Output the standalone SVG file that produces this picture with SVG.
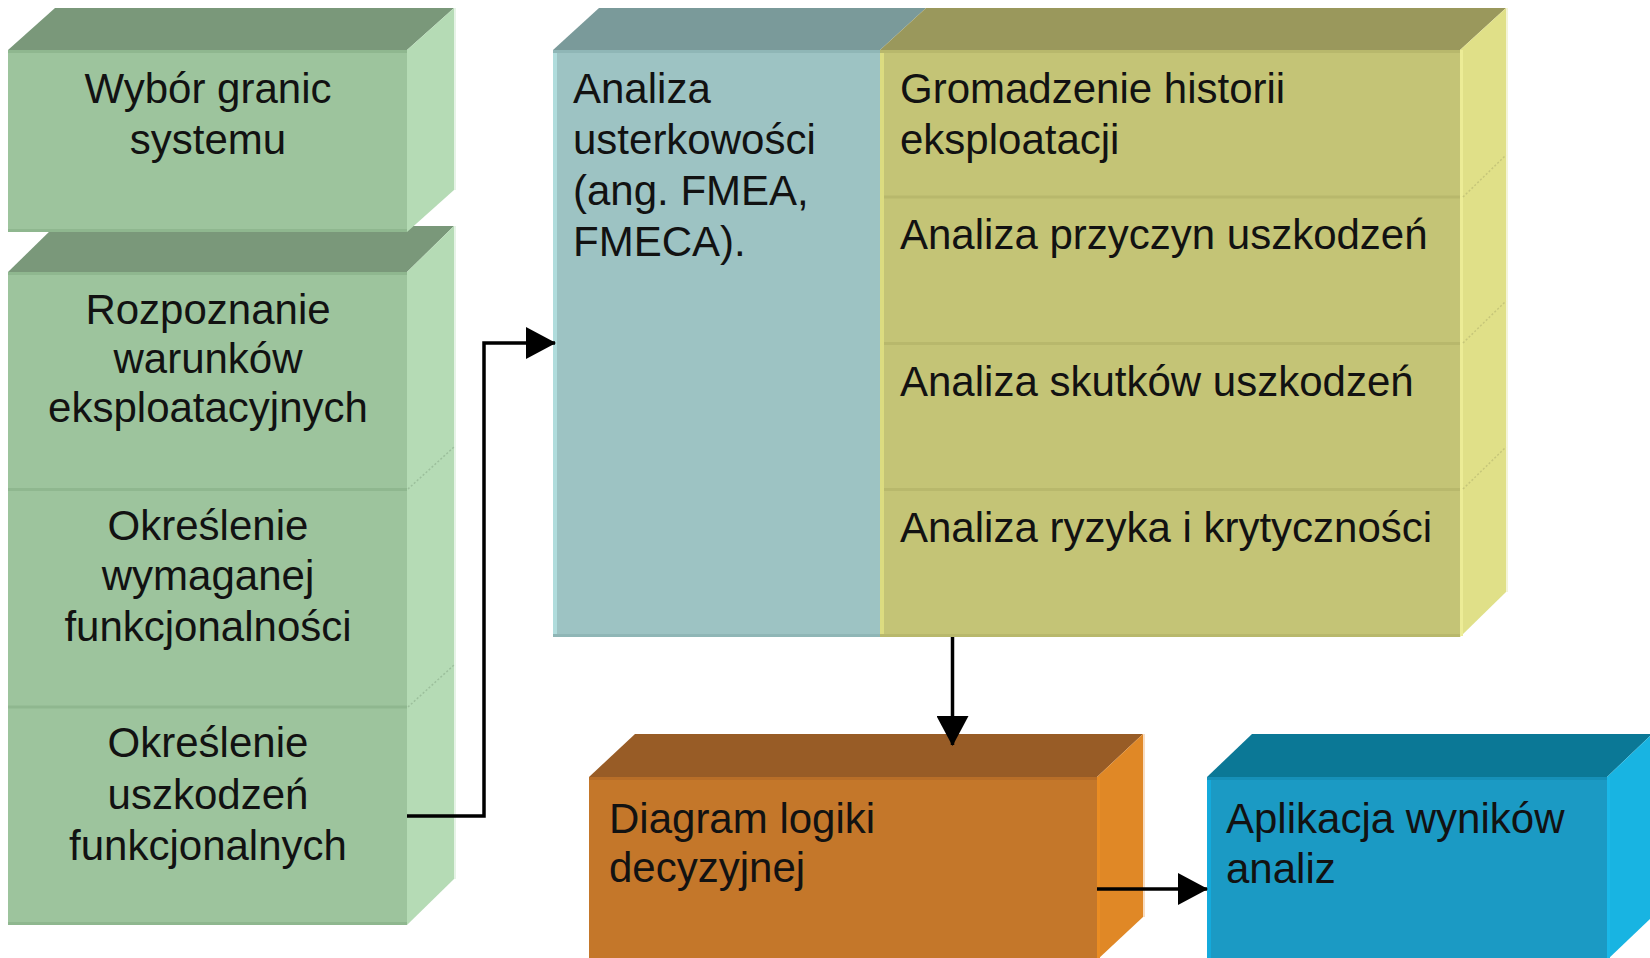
<svg xmlns="http://www.w3.org/2000/svg" width="1650" height="958" viewBox="0 0 1650 958">
  <defs>
    <style>
      text { font-family: "Liberation Sans", Arial, sans-serif; font-size: 42px; fill: #121212; }
      .mid { text-anchor: middle; }
      .g-top { fill: #7a987a; }
      .g-front { fill: #9dc49d; }
      .g-side { fill: #b5dbb5; }
      .g-line { stroke: #8fb78f; stroke-width: 3; }
      .g-edge { stroke: #e6f3e6; stroke-width: 2; }
      .g-dash { stroke: #9cbf9c; stroke-width: 1.5; stroke-dasharray: 2 2; fill: none; }
      .t-top { fill: #7a9a9a; }
      .t-front { fill: #9dc3c3; }
      .t-line { stroke: #8fb6b6; stroke-width: 3; }
      .o-top { fill: #9a985c; }
      .o-front { fill: #c4c476; }
      .o-side { fill: #e0e088; }
      .o-line { stroke: #b8b86c; stroke-width: 3; }
      .o-edge { stroke: #f4f4d8; stroke-width: 2; }
      .o-dash { stroke: #c6c67a; stroke-width: 1.5; stroke-dasharray: 2 2; fill: none; }
      .r-top { fill: #985c26; }
      .r-front { fill: #c4772a; }
      .r-side { fill: #e08826; }
      .r-edge { stroke: #f8dcc0; stroke-width: 2; }
      .b-top { fill: #0b7896; }
      .b-front { fill: #1b9ac4; }
      .b-side { fill: #18b4e2; }
      .conn { stroke: #000; stroke-width: 3.5; fill: none; }
    </style>
    <marker id="arrow" viewBox="0 0 30 32" refX="29" refY="16" markerWidth="30" markerHeight="32" markerUnits="userSpaceOnUse" orient="auto">
      <path d="M0,0 L30,16 L0,32 Z" fill="#000"/>
    </marker>
  </defs>

  <!-- lower green stack (drawn first, the upper block overlaps its top face) -->
  <g id="node-conditions-stack">
    <polygon class="g-top" points="8,272 55,226 454,226 407,272"/>
    <polygon class="g-side" points="407,272 454,226 454,879 407,925"/>
    <line class="g-edge" x1="455" y1="226" x2="455" y2="879"/>
    <rect class="g-front" x="8" y="272" width="399" height="653"/>
    <line class="g-line" x1="8" y1="273.5" x2="407" y2="273.5"/>
    <line class="g-line" x1="8" y1="489.5" x2="407" y2="489.5"/>
    <line class="g-line" x1="8" y1="707" x2="407" y2="707"/>
    <line class="g-line" x1="8" y1="923.5" x2="407" y2="923.5"/>
    <path class="g-dash" d="M408,489 L454,447 M408,707 L454,665"/>
    <g id="node-rozpoznanie">
      <text class="mid" x="208" y="324">Rozpoznanie</text>
      <text class="mid" x="208" y="373">warunków</text>
      <text class="mid" x="208" y="422">eksploatacyjnych</text>
    </g>
    <g id="node-funkcjonalnosc">
      <text class="mid" x="208" y="540">Określenie</text>
      <text class="mid" x="208" y="590">wymaganej</text>
      <text class="mid" x="208" y="641">funkcjonalności</text>
    </g>
    <g id="node-uszkodzenia">
      <text class="mid" x="208" y="757">Określenie</text>
      <text class="mid" x="208" y="809">uszkodzeń</text>
      <text class="mid" x="208" y="860">funkcjonalnych</text>
    </g>
  </g>

  <!-- upper green block -->
  <g id="node-granice">
    <polygon class="g-top" points="8,50 55,8 454,8 407,50"/>
    <polygon class="g-side" points="407,50 454,8 454,190 407,232"/>
    <line class="g-edge" x1="455" y1="8" x2="455" y2="190"/>
    <rect class="g-front" x="8" y="50" width="399" height="182"/>
    <line class="g-line" x1="8" y1="51.5" x2="407" y2="51.5"/>
    <line class="g-line" x1="8" y1="230.5" x2="407" y2="230.5"/>
    <text class="mid" x="208" y="103">Wybór granic</text>
    <text class="mid" x="208" y="154">systemu</text>
  </g>

  <!-- FMEA block, left part of the wide block -->
  <g id="node-fmea">
    <polygon class="t-top" points="553,50 599,8 926,8 880,50"/>
    <rect class="t-front" x="553" y="50" width="327" height="587"/>
    <line class="t-line" x1="553" y1="51.5" x2="880" y2="51.5"/>
    <line class="t-line" x1="553" y1="635.5" x2="880" y2="635.5"/>
    <line x1="555" y1="53" x2="555" y2="634" stroke="#b0dcdc" stroke-width="4"/>
    <text x="573" y="103">Analiza</text>
    <text x="573" y="154">usterkowości</text>
    <text x="573" y="205">(ang. FMEA,</text>
    <text x="573" y="256">FMECA).</text>
  </g>

  <!-- analysis steps, right part of the wide block -->
  <g id="node-analizy">
    <polygon class="o-top" points="880,50 926,8 1506,8 1460,50"/>
    <polygon class="o-side" points="1460,50 1506,8 1506,592 1460,637"/>
    <line class="o-edge" x1="1507" y1="8" x2="1507" y2="592"/>
    <rect class="o-front" x="880" y="50" width="580" height="587"/>
    <line class="o-line" x1="880" y1="51.5" x2="1460" y2="51.5"/>
    <line class="o-line" x1="880" y1="197" x2="1460" y2="197"/>
    <line class="o-line" x1="880" y1="343.5" x2="1460" y2="343.5"/>
    <line class="o-line" x1="880" y1="489.5" x2="1460" y2="489.5"/>
    <line class="o-line" x1="880" y1="635.5" x2="1460" y2="635.5"/>
    <line x1="882" y1="53" x2="882" y2="634" stroke="#dcdc80" stroke-width="4"/>
    <line x1="1461.5" y1="50" x2="1461.5" y2="636" stroke="#ecec96" stroke-width="3"/>
    <path class="o-dash" d="M1463,197 L1506,155 M1463,343 L1506,301 M1463,489 L1506,447"/>
    <g id="node-historia">
      <text x="900" y="103">Gromadzenie historii</text>
      <text x="900" y="154">eksploatacji</text>
    </g>
    <text id="node-przyczyny" x="900" y="249">Analiza przyczyn uszkodzeń</text>
    <text id="node-skutki" x="900" y="396">Analiza skutków uszkodzeń</text>
    <text id="node-ryzyko" x="900" y="542">Analiza ryzyka i krytyczności</text>
  </g>

  <!-- decision logic -->
  <g id="node-diagram">
    <polygon class="r-top" points="589,777 635,734 1143,734 1097,777"/>
    <polygon class="r-side" points="1097,777 1143,734 1143,917 1097,960"/>
    <line class="r-edge" x1="1144" y1="734" x2="1144" y2="917"/>
    <rect class="r-front" x="589" y="777" width="508" height="183"/>
    <line x1="589" y1="778.5" x2="1097" y2="778.5" stroke="#b86e28" stroke-width="3"/>
    <line x1="1098.5" y1="777" x2="1098.5" y2="960" stroke="#ea8c22" stroke-width="3"/>
    <text x="609" y="833">Diagram logiki</text>
    <text x="609" y="882">decyzyjnej</text>
  </g>

  <!-- application of results -->
  <g id="node-aplikacja">
    <polygon class="b-top" points="1207,777 1252,734 1652,734 1607,777"/>
    <polygon class="b-side" points="1607,777 1652,734 1652,917 1607,960"/>
    <rect class="b-front" x="1207" y="777" width="400" height="183"/>
    <line x1="1207" y1="778.5" x2="1607" y2="778.5" stroke="#1690b8" stroke-width="3"/>
    <line x1="1209" y1="780" x2="1209" y2="960" stroke="#14aadc" stroke-width="4"/>
    <line x1="1608.5" y1="777" x2="1608.5" y2="960" stroke="#1ab8e8" stroke-width="3"/>
    <text x="1226" y="833">Aplikacja wyników</text>
    <text x="1226" y="883">analiz</text>
  </g>

  <!-- connectors -->
  <g id="connectors">
    <polyline class="conn" points="407,816 484,816 484,343 555,343" marker-end="url(#arrow)"/>
    <polyline class="conn" points="952.5,637 952.5,745" marker-end="url(#arrow)"/>
    <polyline class="conn" points="1097,889 1207,889" marker-end="url(#arrow)"/>
  </g>
</svg>
